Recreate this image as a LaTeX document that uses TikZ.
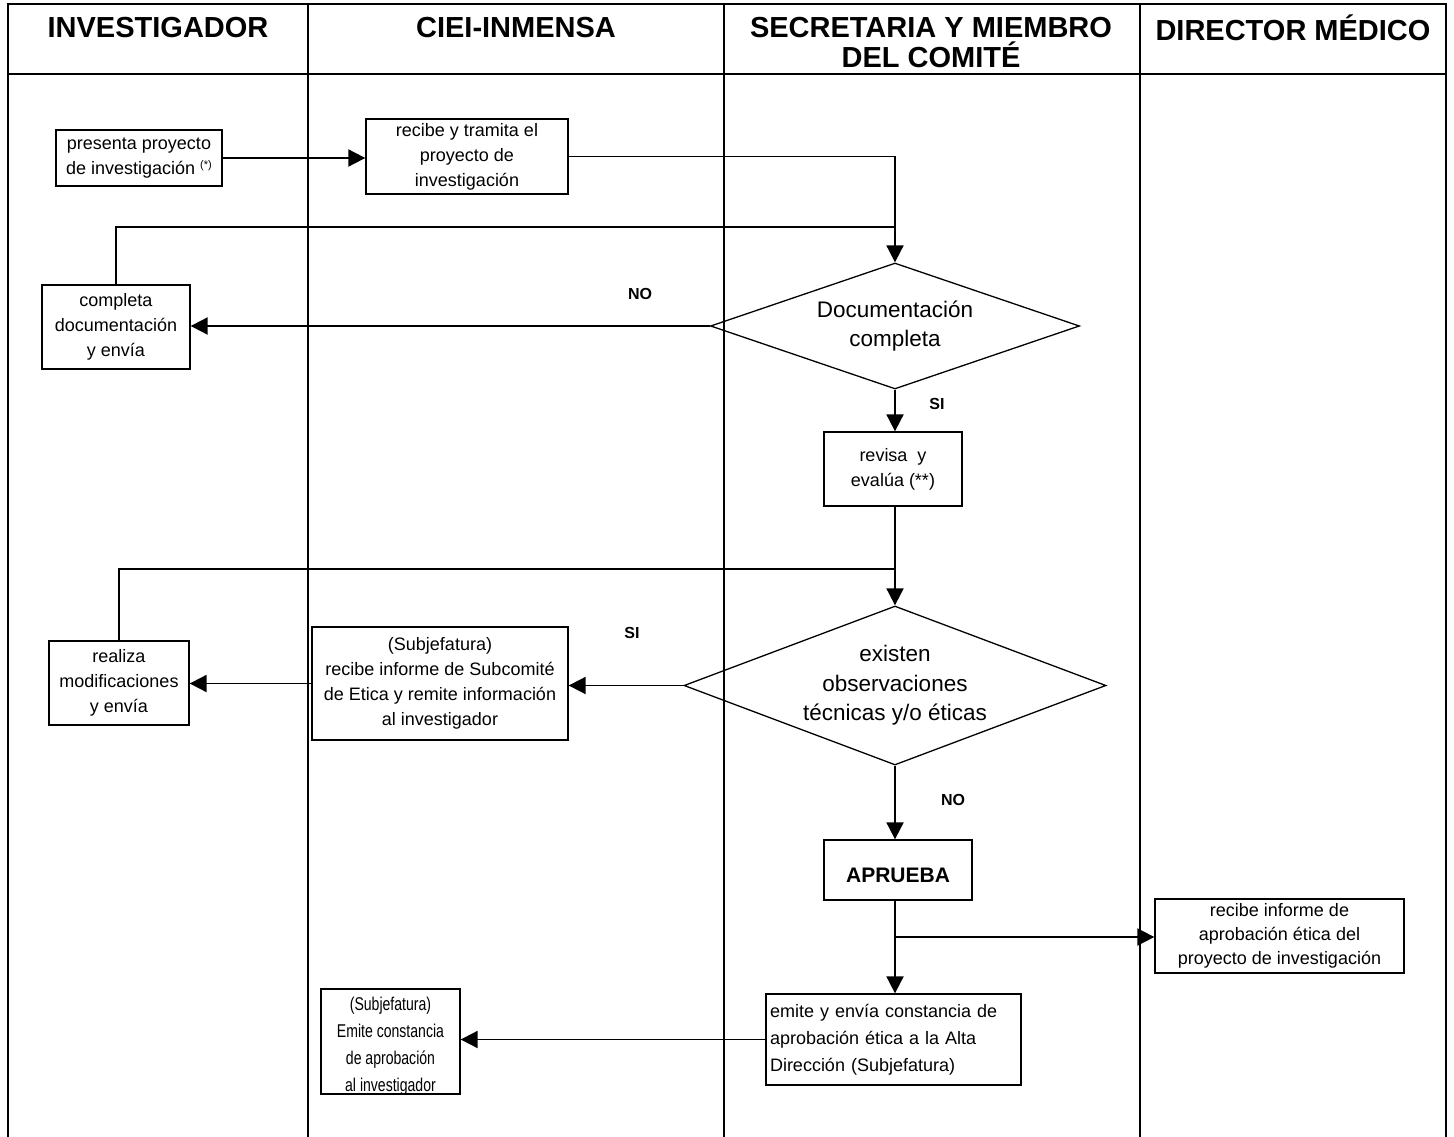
\documentclass[tikz,border=0pt]{standalone}
\usepackage{fontspec}
\setmainfont{Liberation Sans}
\newfontfamily\narrowsans[FakeStretch=0.76]{Liberation Sans}
\usetikzlibrary{arrows.meta,shapes.geometric}
\begin{document}
\begin{tikzpicture}[x=1pt,y=-1pt,
  frame/.style={line width=2.6pt},
  box/.style={draw,line width=1.3pt,align=center,inner sep=0pt,font=\fontsize{18}{25}\selectfont},
  dec/.style={draw,diamond,line width=1.3pt,align=center,inner sep=0pt,font=\fontsize{22.5}{29.5}\selectfont},
  conn/.style={line width=1.9pt},
  arr/.style={conn,-{Triangle[length=17pt,width=17pt]}},
  hdr/.style={align=center,font=\fontsize{29}{30}\bfseries\selectfont},
  lbl/.style={font=\fontsize{16}{18}\bfseries\selectfont}]
\useasboundingbox (0,0) rectangle (1454,1137);
% frame
\draw[frame] (8,1137) -- (8,4) -- (1446,4) -- (1446,1137);
\draw[frame] (8,74) -- (1446,74);
\foreach \xx in {308,724,1140} \draw[frame] (\xx,4) -- (\xx,1137);
% headers
\node[hdr] (h1) at (158,28) {INVESTIGADOR};
\node[hdr] (h2) at (516,28) {CIEI-INMENSA};
\node[hdr] (h3) at (931,43) {SECRETARIA Y MIEMBRO\\DEL COMITÉ};
\node[hdr] (h4) at (1293,28) {DIRECTOR MÉDICO};
% nodes
\node[box,minimum width=166,minimum height=56] (pres) at (139,158)
  {presenta proyecto\\de investigación {\fontsize{11}{12}\selectfont\raisebox{6pt}{(*)}}};
\node[box,minimum width=202,minimum height=75] (reci) at (467,156.5)
  {recibe y tramita el\\proyecto de\\investigación};
\node[dec,minimum width=369,minimum height=126,aspect=3] (d1) at (895,326)
  {Documentación\\completa};
\node[box,minimum width=148,minimum height=84] (comp) at (116,327)
  {completa\\documentación\\y envía};
\node[box,minimum width=138,minimum height=74] (rev) at (893,469)
  {revisa \ y\\evalúa (**)};
\node[dec,minimum width=422,minimum height=159,aspect=2.65] (d2) at (895,685.5)
  {existen\\observaciones\\técnicas y/o éticas};
\node[box,minimum width=256,minimum height=113] (sub1) at (440,683.5)
  {(Subjefatura)\\recibe informe de Subcomité\\de Etica y remite información\\al investigador};
\node[box,minimum width=140,minimum height=84] (real) at (119,683)
  {realiza\\modificaciones\\y envía};
\node[box,minimum width=148,minimum height=60,font=\fontsize{21}{25}\bfseries\selectfont] (apr) at (898,870)
  {\mbox{}\\APRUEBA};
\node[box,minimum width=249,minimum height=74,font=\fontsize{18}{24}\selectfont] (dir) at (1279.5,936)
  {recibe informe de\\aprobación ética del\\proyecto de investigación};
\node[box,minimum width=255,minimum height=91,align=left,text width=247pt,inner xsep=4pt,font=\fontsize{18}{27}\selectfont] (emi) at (893.5,1039.5)
  {emite y envía constancia de\\aprobación ética a la Alta\\Dirección (Subjefatura)};
\node[box,minimum width=139,minimum height=105] (sub2) at (390.5,1041.5) {};
\node[align=center,inner sep=0pt,font=\narrowsans\fontsize{18.5}{27}\selectfont] (sub2t) at ([yshift=-5]sub2.center)
  {(Subjefatura)\\Emite constancia\\de aprobación\\al investigador};
% labels
\node[lbl] (no1) at (640,294) {NO};
\node[lbl] (si1) at (937,404) {SI};
\node[lbl] (si2) at (632,633) {SI};
\node[lbl] (no2) at (953,800) {NO};
% junctions
\coordinate (j1) at (895,227);
\coordinate (j2) at (895,569);
\coordinate (j3) at (895,937);
% connectors
\draw[arr] (pres.east) -- (pres.east -| reci.west);
\draw[arr] (reci.east) -| (d1.north);
\draw[conn] (comp.north) |- (j1);
\draw[arr] (d1.west) -- (d1.west -| comp.east);
\draw[arr] (d1.south) -- (d1.south |- rev.north);
\draw[arr] (d1.south |- rev.south) -- (d2.north);
\draw[conn] (real.north) |- (j2);
\draw[arr] (d2.west) -- (d2.west -| sub1.east);
\draw[arr] (sub1.west) -- (sub1.west -| real.east);
\draw[arr] (d2.south) -- (d2.south |- apr.north);
\draw[arr] (d2.south |- apr.south) -- (d2.south |- emi.north);
\draw[arr] (j3) -- (j3 -| dir.west);
\draw[arr] (emi.west) -- (emi.west -| sub2.east);
\end{tikzpicture}
\end{document}
